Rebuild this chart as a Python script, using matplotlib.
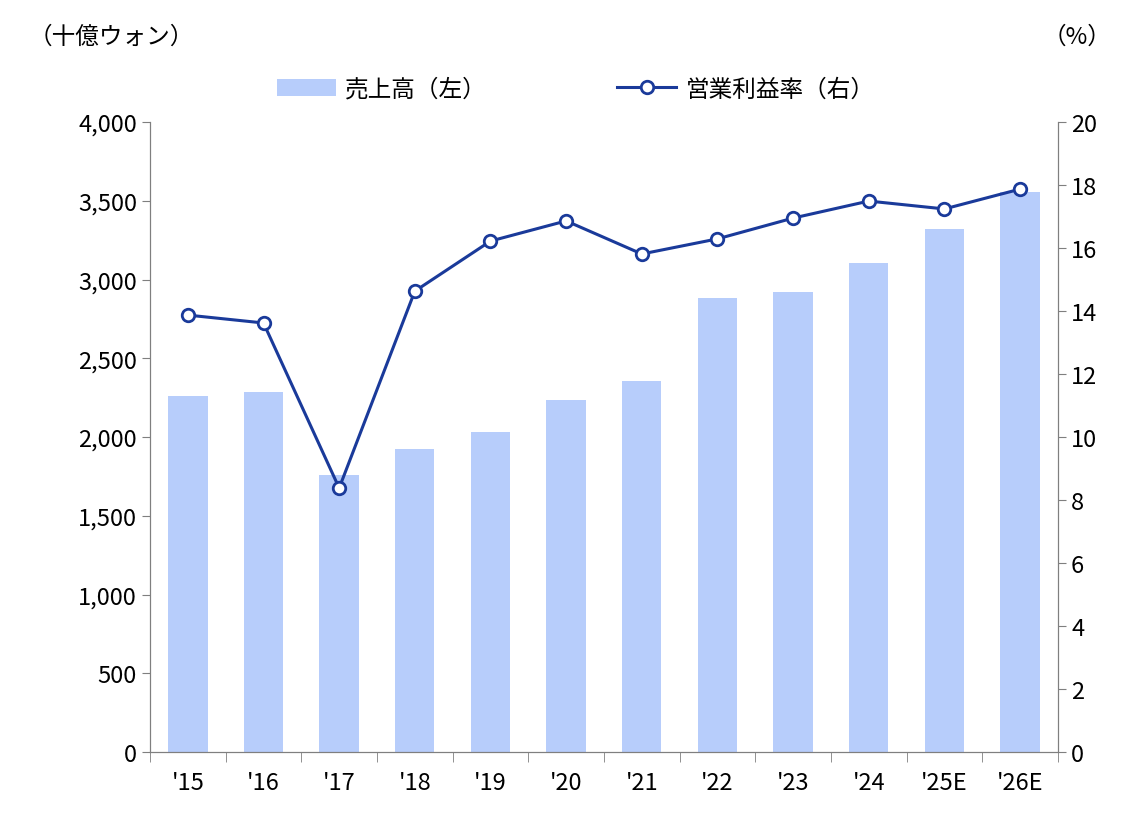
import matplotlib

matplotlib.use("Agg")
import matplotlib.pyplot as plt
import numpy as np

plt.rcParams["font.family"] = "Noto Sans CJK JP"

years = ["'15", "'16", "'17", "'18", "'19", "'20", "'21", "'22", "'23", "'24", "'25E", "'26E"]
sales = [2260, 2286, 1759, 1924, 2032, 2235, 2356, 2883, 2921, 3105, 3321, 3556]
op_margin = [13.87, 13.62, 8.38, 14.63, 16.22, 16.86, 15.81, 16.29, 16.95, 17.49, 17.24, 17.87]

BAR_COLOR = "#b7cdfb"
LINE_COLOR = "#1a3a9a"
GRID_COLOR = "#7f7f7f"

fig = plt.figure(figsize=(11.4, 8.2), dpi=100)
ax = fig.add_axes([0.1316, 0.0817, 0.7964, 0.7683])
ax2 = ax.twinx()

x = np.arange(len(years))
ax.bar(x, sales, width=0.52, color=BAR_COLOR, label="売上高（左）", zorder=2)
ax2.plot(x, op_margin, color=LINE_COLOR, lw=2.2, marker="o", markersize=9,
         markerfacecolor="white", markeredgecolor=LINE_COLOR, markeredgewidth=2,
         label="営業利益率（右）", zorder=3)

ax.set_xlim(-0.5, len(years) - 0.5)
ax.set_ylim(0, 4000)
ax2.set_ylim(0, 20)
ax.set_yticks(range(0, 4001, 500))
ax.set_yticklabels([f"{v:,}" for v in range(0, 4001, 500)])
ax2.set_yticks(range(0, 21, 2))

ax.set_xticks(x)
ax.set_xticklabels(years)
ax.set_xticks(np.arange(-0.5, len(years), 1), minor=True)
ax.tick_params(axis="x", which="major", length=0, pad=14, labelsize=17)
ax.tick_params(axis="x", which="minor", length=7, color=GRID_COLOR)
ax.tick_params(axis="y", labelsize=17, length=6, color=GRID_COLOR, direction="out")
ax2.tick_params(axis="y", labelsize=17, length=6, color=GRID_COLOR, direction="out")

for a in (ax, ax2):
    a.spines["top"].set_visible(False)
    for s in ("left", "right", "bottom"):
        a.spines[s].set_color(GRID_COLOR)

fig.text(0.025, 0.955, "（十億ウォン）", fontsize=17, ha="left", va="center")
fig.text(0.975, 0.955, "（%）", fontsize=17, ha="right", va="center")

h1, l1 = ax.get_legend_handles_labels()
h2, l2 = ax2.get_legend_handles_labels()
fig.legend(h1 + h2, l1 + l2, loc="center", bbox_to_anchor=(0.505, 0.89), ncol=2,
           frameon=False, fontsize=17, columnspacing=5.5, handlelength=2.5,
           handletextpad=0.4)

fig.savefig("out.png", dpi=100)
